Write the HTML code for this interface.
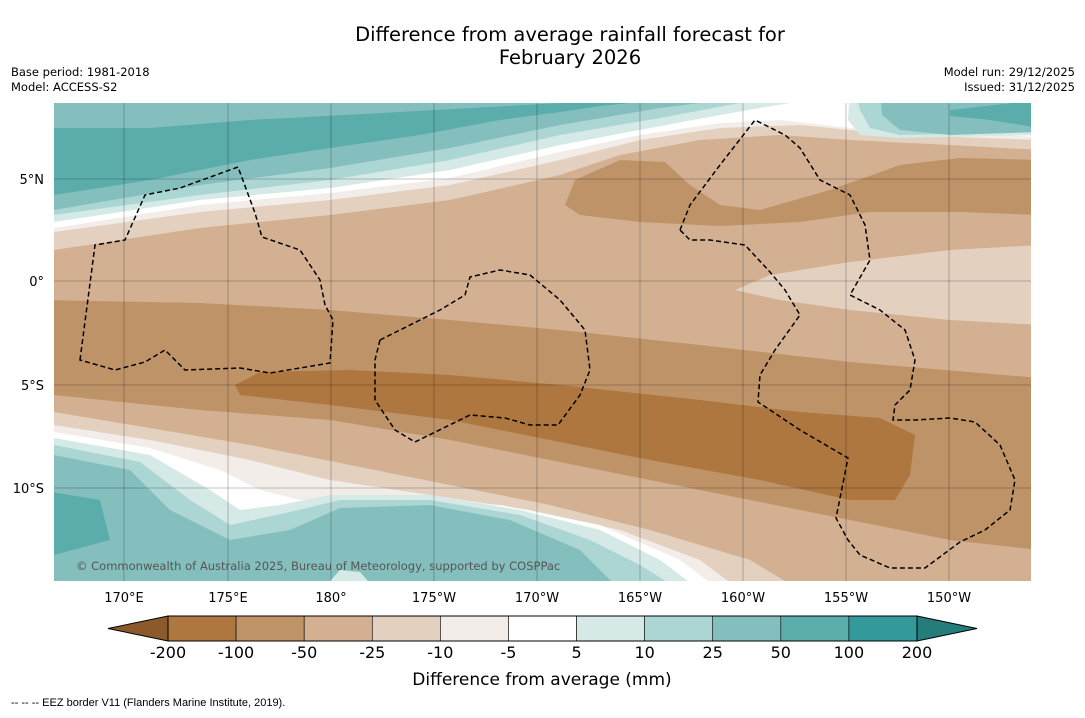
<!DOCTYPE html>
<html><head><meta charset="utf-8"><style>
body{margin:0;background:#fff;font-family:"Liberation Sans","DejaVu Sans",sans-serif;}
svg text{font-family:"DejaVu Sans","Liberation Sans",sans-serif;}
</style></head><body>
<svg width="1085" height="713" viewBox="0 0 1085 713">
<text x="570" y="41" font-size="19.5" text-anchor="middle">Difference from average rainfall forecast for</text>
<text x="570" y="64" font-size="19.5" text-anchor="middle">February 2026</text>
<text x="11" y="76" font-size="11.5">Base period: 1981-2018</text>
<text x="11" y="91" font-size="11.5">Model: ACCESS-S2</text>
<text x="1075" y="76" font-size="11.5" text-anchor="end">Model run: 29/12/2025</text>
<text x="1075" y="91" font-size="11.5" text-anchor="end">Issued: 31/12/2025</text>
<defs><clipPath id="mc"><rect x="54" y="103" width="977" height="478"/></clipPath></defs>
<g clip-path="url(#mc)">
<rect x="54" y="103" width="977" height="478" fill="#d2b091"/>
<path fill="#e4d0bf" d="M40,90 L1040,90 L1040,150 L950,145 L850,140 L780,135 L700,140 L620,155 L560,175 L450,200 L330,215 L200,228 L54,250 L40,252Z"/>
<path fill="#f2ede8" d="M40,90 L1040,90 L1040,140 L900,135 L800,125 L720,128 L640,140 L560,160 L450,185 L330,200 L200,212 L54,232 L40,234Z"/>
<path fill="#ffffff" d="M40,90 L1040,90 L1040,137 L850,128 L780,120 L720,123 L640,135 L560,152 L450,178 L330,193 L200,205 L54,228 L40,230Z"/>
<path fill="#d5e9e7" d="M40,90 L790,90 L790,103 L760,108 L720,115 L650,128 L560,145 L450,170 L330,188 L200,200 L54,222 L40,224Z"/>
<path fill="#d5e9e7" d="M850,90 L1040,90 L1040,135 L900,138 L860,135 L848,120Z"/>
<path fill="#acd6d4" d="M40,90 L750,90 L740,103 L660,118 L560,135 L450,160 L330,180 L200,195 L54,215 L40,217Z"/>
<path fill="#acd6d4" d="M855,90 L1040,90 L1040,132 L900,135 L870,128 L860,110Z"/>
<path fill="#85bfbd" d="M40,90 L710,90 L700,103 L660,108 L560,125 L450,148 L330,168 L200,185 L54,210 L40,212Z"/>
<path fill="#85bfbd" d="M880,90 L1040,90 L1040,132 L950,135 L900,130 L882,115Z"/>
<path fill="#5aadab" d="M40,128 L150,128 L250,120 L400,112 L560,103 L660,100 L600,106 L560,112 L500,120 L420,135 L330,148 L250,160 L150,180 L54,195 L40,197Z"/>
<path fill="#5aadab" d="M950,110 L1040,100 L1040,128 L990,120 L950,116Z"/>
<path fill="#bf9368" d="M565,205 L575,180 L620,160 L665,162 L690,185 L720,205 L760,210 L830,190 L900,165 L960,158 L1040,160 L1040,215 L960,212 L870,212 L800,222 L720,226 L640,222 L580,215Z"/>
<path fill="#e4d0bf" d="M735,290 L770,275 L850,262 L950,250 L1040,245 L1040,325 L950,320 L850,310 L780,300Z"/>
<path fill="#e4d0bf" d="M40,410 L54,412 L150,428 L250,445 L350,465 L450,485 L550,505 L650,530 L750,560 L800,590 L40,590Z"/>
<path fill="#f2ede8" d="M40,423 L54,425 L150,440 L250,460 L330,480 L430,495 L530,510 L620,530 L700,560 L740,590 L40,590Z"/>
<path fill="#ffffff" d="M40,430 L54,432 L150,448 L220,470 L260,490 L300,500 L400,500 L500,505 L600,525 L680,560 L720,590 L40,590Z"/>
<path fill="#d5e9e7" d="M40,436 L54,438 L150,455 L210,490 L240,510 L280,505 L330,495 L430,495 L520,510 L600,530 L660,560 L700,590 L40,590Z"/>
<path fill="#acd6d4" d="M40,443 L54,445 L140,462 L190,500 L230,525 L290,512 L340,500 L430,500 L520,515 L590,540 L640,565 L680,590 L40,590Z"/>
<path fill="#85bfbd" d="M40,453 L54,455 L130,470 L170,510 L230,540 L290,530 L340,508 L430,505 L510,520 L580,550 L620,590 L40,590Z"/>
<path fill="#5aadab" d="M40,490 L100,500 L110,540 L54,555 L40,556Z"/>
<path fill="#d5e9e7" d="M330,581 L340,570 L360,572 L368,581Z"/>
<path fill="#bf9368" d="M40,300 L200,303 L330,310 L450,320 L560,330 L700,345 L850,362 L1040,378 L1040,550 L950,540 L850,520 L750,500 L650,480 L550,460 L450,440 L330,420 L200,410 L54,395 L40,393Z"/>
<path fill="#ad773f" d="M235,385 L260,372 L350,370 L450,375 L560,385 L700,400 L800,412 L880,418 L915,435 L910,475 L895,500 L850,500 L760,480 L650,460 L550,440 L450,420 L330,405 L240,395Z"/>
</g>
<g stroke="#000" stroke-opacity="0.3" stroke-width="0.8">
<line x1="124" y1="103" x2="124" y2="581"/><line x1="228" y1="103" x2="228" y2="581"/><line x1="331" y1="103" x2="331" y2="581"/><line x1="434" y1="103" x2="434" y2="581"/><line x1="537" y1="103" x2="537" y2="581"/><line x1="640" y1="103" x2="640" y2="581"/><line x1="743" y1="103" x2="743" y2="581"/><line x1="846" y1="103" x2="846" y2="581"/><line x1="949" y1="103" x2="949" y2="581"/>
<line x1="54" y1="179" x2="1031" y2="179"/><line x1="54" y1="281" x2="1031" y2="281"/><line x1="54" y1="385" x2="1031" y2="385"/><line x1="54" y1="488" x2="1031" y2="488"/>
</g>
<g fill="none" stroke="#000" stroke-width="1.5" stroke-dasharray="5,3">
<path d="M80,360 L95,245 L125,240 L145,195 L180,188 L238,167 L255,213 L262,237 L300,250 L320,280 L325,305 L333,320 L330,363 L270,373 L240,368 L185,370 L165,350 L145,362 L115,370 Z"/>
<path d="M380,340 L440,310 L465,295 L470,277 L500,270 L530,275 L560,300 L585,330 L590,370 L580,395 L558,425 L530,425 L505,418 L470,415 L415,442 L395,430 L375,400 L375,360 Z"/>
<path d="M680,230 L690,205 L720,165 L755,120 L785,135 L800,148 L820,180 L850,195 L865,225 L870,260 L850,295 L880,310 L905,330 L915,360 L910,390 L895,405 L893,420 L915,420 L950,418 L975,422 L1000,445 L1015,480 L1010,510 L985,530 L960,542 L925,568 L890,568 L860,555 L848,540 L836,518 L848,458 L800,430 L758,402 L760,375 L775,350 L800,315 L785,290 L770,272 L745,245 L710,240 L690,240 Z"/>
</g>
<text x="76" y="570" font-size="11.5" fill="#555">© Commonwealth of Australia 2025, Bureau of Meteorology, supported by COSPPac</text>
<g font-size="13" text-anchor="middle">
<text x="124" y="602">170°E</text><text x="228" y="602">175°E</text><text x="331" y="602">180°</text><text x="434" y="602">175°W</text><text x="537" y="602">170°W</text><text x="640" y="602">165°W</text><text x="743" y="602">160°W</text><text x="846" y="602">155°W</text><text x="949" y="602">150°W</text>
</g>
<g font-size="13" text-anchor="end">
<text x="44" y="184">5°N</text><text x="44" y="286">0°</text><text x="44" y="390">5°S</text><text x="44" y="493">10°S</text>
</g>
<g id="cbar"></g>
<text x="542" y="685" font-size="17" text-anchor="middle">Difference from average (mm)</text>
<text x="11" y="706" font-size="11" style="font-family:'Liberation Sans',sans-serif">--  --  -- EEZ border V11 (Flanders Marine Institute, 2019).</text>
</svg>
<script>
const levels = ["-200","-100","-50","-25","-10","-5","5","10","25","50","100","200"];
const colors = ["#ad773f","#bf9368","#d2b091","#e4d0bf","#f2ede8","#ffffff","#d5e9e7","#acd6d4","#85bfbd","#5aadab","#33999a"];
const lowColor = "#8c5a2a", highColor = "#257d7b";
const ns = "http://www.w3.org/2000/svg";
const g = document.getElementById('cbar');
const x0 = 168, x1 = 917, y0 = 616, h = 25;
const w = (x1 - x0) / colors.length;
function mk(tag, attrs){const e=document.createElementNS(ns,tag);for(const k in attrs)e.setAttribute(k,attrs[k]);g.appendChild(e);return e;}
let t = mk('polygon',{points:`108,${y0+h/2} ${x0},${y0} ${x0},${y0+h}`,fill:lowColor,stroke:'#000','stroke-width':1});


t = mk('polygon',{points:`977,${y0+h/2} ${x1},${y0} ${x1},${y0+h}`,fill:highColor,stroke:'#000','stroke-width':1});


colors.forEach((c,i)=>{
  const r = mk('rect',{x:x0+i*w,y:y0,width:w,height:h,fill:c,stroke:'#000','stroke-width':0.6});
  
  
});
mk('rect',{x:x0,y:y0,width:x1-x0,height:h,fill:'none',stroke:'#000','stroke-width':1});
levels.forEach((l,i)=>{
  const tx = mk('text',{x:x0+i*w,y:658,'font-size':16,'text-anchor':'middle'});
  tx.textContent = l;
  
  
});
</script>
</body></html>
